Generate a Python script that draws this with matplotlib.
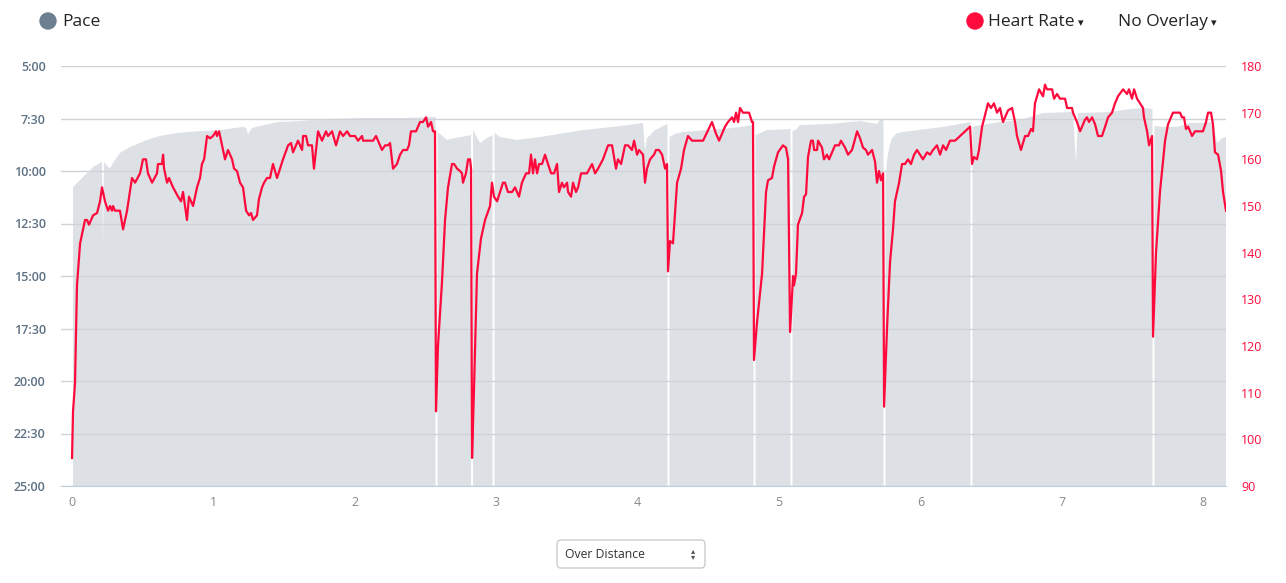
import numpy as np
import matplotlib
matplotlib.use("Agg")
import matplotlib.pyplot as plt
from matplotlib.patches import Circle, FancyBboxPatch

# pace (min/km) over distance (km); nan = no pace recorded (stop)
pace_km = [0.007, 0.021, 0.092, 0.149, 0.198, 0.212, 0.219, 0.226, 0.255, 0.269,
           0.304, 0.339, 0.410, 0.530, 0.622, 0.743, 0.905, 1.047, 1.209, 1.231,
           1.245, 1.273, 1.450, 1.612, 1.825, 2.037, 2.320, 2.571, 2.577, 2.585,
           2.652, 2.709, 2.822, 2.829, 2.836, 2.885, 2.935, 2.974, 2.981, 2.988,
           3.027, 3.147, 3.310, 3.614, 3.876, 4.038, 4.052, 4.066, 4.088, 4.123,
           4.211, 4.218, 4.225, 4.264, 4.321, 4.675, 4.820, 4.827, 4.834, 4.915,
           5.081, 5.088, 5.095, 5.127, 5.148, 5.361, 5.573, 5.693, 5.714, 5.739,
           5.746, 5.753, 5.764, 5.778, 5.799, 5.834, 5.926, 6.160, 6.354, 6.361,
           6.368, 6.421, 6.563, 6.704, 6.796, 6.867, 7.079, 7.100, 7.115, 7.341,
           7.482, 7.574, 7.641, 7.648, 7.655, 7.716, 7.815, 7.907, 7.998, 8.069,
           8.098, 8.133, 8.161]
pace_min = [10.76, 10.67, 10.19, 9.81, 9.62, 9.57, 13.43, 9.57, 9.81, 9.86,
            9.48, 9.14, 8.86, 8.52, 8.33, 8.19, 8.10, 8.05, 7.90, 7.95,
            8.24, 7.95, 7.67, 7.62, 7.52, 7.48, 7.48, 7.43, np.nan, 8.14,
            8.52, 8.43, 8.29, np.nan, 8.05, 8.67, 8.43, 8.29, np.nan, 8.19,
            8.38, 8.52, 8.38, 8.05, 7.86, 7.71, 9.00, 8.43, 8.29, 8.05,
            7.76, np.nan, 8.38, 8.24, 8.14, 7.95, 7.81, np.nan, 8.29, 8.05,
            8.00, np.nan, 8.10, 8.00, 7.81, 7.76, 7.62, 7.76, 7.57, 7.57,
            np.nan, 10.50, 9.50, 8.90, 8.43, 8.19, 8.10, 7.90, 7.67, np.nan,
            7.90, 7.81, 7.67, 7.57, 7.38, 7.24, 7.19, 9.62, 7.24, 7.19,
            7.05, 7.00, 7.05, np.nan, 7.86, 7.90, 7.90, 7.71, 7.71, 7.67,
            8.67, 8.43, 8.38]

# heart rate (bpm) over distance (km)
hr_km = [0.000, 0.007, 0.021, 0.028, 0.035, 0.057, 0.071, 0.092, 0.106, 0.120,
         0.149, 0.177, 0.198, 0.212, 0.233, 0.255, 0.269, 0.283, 0.290, 0.304,
         0.339, 0.361, 0.389, 0.424, 0.446, 0.481, 0.502, 0.523, 0.537, 0.566,
         0.601, 0.608, 0.636, 0.644, 0.651, 0.672, 0.686, 0.714, 0.750, 0.771,
         0.785, 0.813, 0.827, 0.856, 0.884, 0.905, 0.919, 0.934, 0.955, 0.976,
         0.997, 1.018, 1.025, 1.040, 1.061, 1.082, 1.103, 1.132, 1.146, 1.167,
         1.188, 1.209, 1.231, 1.252, 1.266, 1.280, 1.308, 1.322, 1.344, 1.358,
         1.379, 1.400, 1.421, 1.450, 1.471, 1.492, 1.528, 1.549, 1.563, 1.598,
         1.627, 1.634, 1.655, 1.669, 1.697, 1.711, 1.740, 1.768, 1.796, 1.810,
         1.839, 1.867, 1.895, 1.917, 1.945, 1.966, 2.001, 2.023, 2.051, 2.058,
         2.129, 2.150, 2.192, 2.214, 2.235, 2.249, 2.270, 2.298, 2.320, 2.341,
         2.369, 2.383, 2.397, 2.433, 2.461, 2.482, 2.504, 2.518, 2.539, 2.553,
         2.567, 2.574, 2.588, 2.617, 2.638, 2.659, 2.687, 2.702, 2.723, 2.744,
         2.758, 2.765, 2.786, 2.801, 2.815, 2.822, 2.829, 2.843, 2.864, 2.892,
         2.921, 2.956, 2.970, 2.984, 3.006, 3.027, 3.048, 3.062, 3.083, 3.112,
         3.133, 3.161, 3.182, 3.211, 3.232, 3.246, 3.260, 3.274, 3.289, 3.303,
         3.324, 3.345, 3.366, 3.388, 3.409, 3.430, 3.444, 3.465, 3.479, 3.501,
         3.508, 3.529, 3.543, 3.564, 3.579, 3.600, 3.642, 3.678, 3.699, 3.720,
         3.755, 3.791, 3.819, 3.847, 3.861, 3.883, 3.911, 3.932, 3.960, 3.975,
         3.996, 4.010, 4.038, 4.052, 4.066, 4.088, 4.116, 4.130, 4.151, 4.173,
         4.194, 4.208, 4.215, 4.229, 4.250, 4.279, 4.307, 4.328, 4.356, 4.385,
         4.463, 4.526, 4.554, 4.576, 4.618, 4.639, 4.668, 4.682, 4.696, 4.710,
         4.724, 4.745, 4.774, 4.788, 4.809, 4.816, 4.823, 4.844, 4.880, 4.908,
         4.922, 4.950, 4.965, 4.993, 5.028, 5.049, 5.064, 5.078, 5.099, 5.106,
         5.120, 5.134, 5.163, 5.177, 5.191, 5.205, 5.226, 5.240, 5.248, 5.269,
         5.276, 5.304, 5.318, 5.339, 5.354, 5.396, 5.424, 5.438, 5.467, 5.488,
         5.516, 5.530, 5.552, 5.573, 5.594, 5.615, 5.629, 5.658, 5.679, 5.693,
         5.707, 5.721, 5.736, 5.743, 5.764, 5.785, 5.806, 5.820, 5.849, 5.870,
         5.891, 5.912, 5.933, 5.955, 5.976, 5.997, 6.018, 6.047, 6.068, 6.089,
         6.117, 6.139, 6.160, 6.181, 6.209, 6.245, 6.280, 6.315, 6.351, 6.365,
         6.379, 6.400, 6.414, 6.436, 6.457, 6.478, 6.499, 6.520, 6.542, 6.563,
         6.584, 6.620, 6.648, 6.669, 6.683, 6.711, 6.740, 6.761, 6.782, 6.796,
         6.810, 6.839, 6.867, 6.881, 6.895, 6.931, 6.945, 6.966, 6.987, 7.023,
         7.037, 7.072, 7.079, 7.107, 7.129, 7.164, 7.178, 7.192, 7.214, 7.235,
         7.256, 7.284, 7.306, 7.327, 7.355, 7.376, 7.397, 7.433, 7.461, 7.475,
         7.496, 7.511, 7.532, 7.553, 7.574, 7.581, 7.603, 7.617, 7.638, 7.645,
         7.666, 7.694, 7.730, 7.751, 7.786, 7.836, 7.850, 7.864, 7.878, 7.893,
         7.921, 7.942, 7.977, 7.998, 8.020, 8.034, 8.055, 8.069, 8.083, 8.105,
         8.126, 8.140, 8.161]
hr_bpm = [96, 106, 112, 123, 133, 142, 144, 147, 147, 146,
          148, 148.5, 151, 154, 151, 149, 150, 149, 150, 149,
          149, 145, 149, 156, 155, 157, 160, 160, 157, 155,
          157, 159, 159, 161, 158, 155, 156, 154, 152, 151,
          153, 147, 152, 150, 154, 156, 159, 160, 165, 164.5,
          165, 166, 165, 166, 163, 160, 162, 160, 158, 157.5,
          155, 154, 149, 148, 148.5, 147, 148, 151.5, 154, 155,
          156, 156, 159, 156, 158, 160, 163, 163.5, 161.5, 164,
          162, 165, 165, 163, 163, 158, 166, 164, 166, 165,
          166, 163, 166, 165, 166, 165, 165, 164, 165, 164,
          164, 165, 162, 163, 163, 163.5, 158, 159, 161, 162,
          162, 163, 166, 166, 168, 168, 169, 167, 168, 166,
          166, 106, 120, 134, 147, 154, 159, 159, 158, 157.5,
          157, 155, 157, 160, 160, 158, 96, 111, 135.5, 143,
          147, 150, 155, 152, 151, 153, 155, 155, 153, 153,
          154, 152, 155, 157, 157, 161, 157, 160, 157, 159,
          159, 161, 159, 157, 157, 159, 153, 155, 154, 155,
          153, 152, 155, 153, 154, 157, 157, 159, 157, 158,
          160, 163, 163, 158, 160, 159, 163, 163, 162, 164,
          161, 162, 161, 155, 158, 160, 161, 162, 162, 161,
          158, 159, 136, 142.5, 142, 155, 158, 162, 165, 164,
          164, 168, 165.5, 164, 167, 168, 169, 168, 170, 168,
          171, 170, 170, 170, 168, 168, 117, 125, 135.5, 153,
          155.5, 156, 158.5, 161.5, 163, 162.5, 160, 123, 135, 133,
          135.5, 146, 148.5, 152, 152.5, 160.5, 164, 164, 162, 162,
          164, 162.5, 160, 161, 160, 163, 163, 164, 162.5, 161,
          162, 163.5, 166, 164.5, 162.5, 162, 161, 162, 159.5, 155,
          157.5, 155.5, 157, 107, 124, 138, 145, 151, 155, 159,
          159, 160, 159, 161, 162, 161, 160, 161.5, 161, 162,
          163, 161, 163, 162, 164, 164, 165, 166, 167, 159,
          160.5, 160, 162, 167, 169.5, 172, 171, 172, 170, 171,
          168, 170.5, 171, 168, 165, 162, 165, 165, 166.5, 166,
          172, 175, 173.5, 176, 175, 175, 173, 174, 173, 173,
          171, 171, 170, 168, 166, 168.5, 169, 168, 169, 167.5,
          165, 165, 167, 169, 170, 172, 173.5, 175, 174, 175,
          173, 175, 173, 172, 171, 169, 166, 163, 165, 122,
          140, 153, 164, 167.5, 170, 170, 169, 169, 166.5, 167,
          165, 166, 166, 166, 168, 170, 170, 167.5, 161.5, 161,
          157.5, 153, 149]

pace_ticks = [5, 7.5, 10, 12.5, 15, 17.5, 20, 22.5, 25]
pace_labels = ["5:00", "7:30", "10:00", "12:30", "15:00", "17:30", "20:00", "22:30", "25:00"]
hr_ticks = [90, 100, 110, 120, 130, 140, 150, 160, 170, 180]
km_ticks = [0, 1, 2, 3, 4, 5, 6, 7, 8]

PACE_FILL = "#dde1e5"
HR_RED = "#ff0a3c"

plt.rcParams["font.family"] = ["Open Sans", "DejaVu Sans"]

W, H = 1286, 583
fig = plt.figure(figsize=(W / 100, H / 100), dpi=100)
ax = fig.add_axes([61 / W, (H - 486) / H, 1165 / W, 420 / H])

pace = np.array(pace_min, dtype=float)
ax.fill_between(pace_km, pace, 25, where=~np.isnan(pace), color=PACE_FILL, lw=0, zorder=1)
ax.set_xlim(-0.078, 8.161)
ax.set_ylim(25, 5)
ax.set_yticks(pace_ticks)
ax.set_yticklabels(pace_labels)
ax.set_xticks(km_ticks)
ax.yaxis.grid(True, color="#cfd3d7", lw=1, zorder=2)
ax.set_axisbelow(False)
for s in ["top", "left", "right"]:
    ax.spines[s].set_visible(False)
ax.spines["bottom"].set_color("#bccddd")
ax.spines["bottom"].set_zorder(3)
ax.tick_params(axis="y", length=0, pad=11, labelsize=9, labelcolor="#5d7184")
ax.tick_params(axis="x", length=0, pad=7, labelsize=9, labelcolor="#888888")
for t in ax.get_yticklabels():
    t.set_fontweight("semibold")

ax2 = ax.twinx()
ax2.plot(hr_km, hr_bpm, color=HR_RED, lw=1.6, solid_joinstyle="round")
ax2.set_ylim(90, 180)
ax2.set_yticks(hr_ticks)
ax2.tick_params(axis="y", length=0, pad=11, labelsize=9, labelcolor=HR_RED)
for s in ax2.spines.values():
    s.set_visible(False)

# header legend and the distance selector, in pixel coordinates
ov = fig.add_axes([0, 0, 1, 1])
ov.set_xlim(0, W)
ov.set_ylim(H, 0)
ov.axis("off")
ov.add_patch(Circle((48, 21), 8, color="#6c8091"))
ov.text(62, 22, "Pace", fontsize=12.5, va="center", color="#222222")
ov.add_patch(Circle((975, 21), 8, color=HR_RED))
ov.text(988, 22, "Heart Rate", fontsize=12.5, va="center", color="#222222")
ov.text(1081, 23, "▾", fontsize=8, ha="center", va="center", color="#222222", family="DejaVu Sans")
ov.text(1118, 22, "No Overlay", fontsize=12.5, va="center", color="#222222")
ov.text(1214, 23, "▾", fontsize=8, ha="center", va="center", color="#222222", family="DejaVu Sans")

ov.add_patch(FancyBboxPatch((557, 540), 148, 28, boxstyle="round,pad=0,rounding_size=4",
                            fc="white", ec="#cccccc", lw=1))
ov.text(565, 554, "Over Distance", fontsize=8.8, va="center", color="#333333")
ov.text(693, 550.5, "▴", fontsize=6, ha="center", va="center", color="#555555", family="DejaVu Sans")
ov.text(693, 557, "▾", fontsize=6, ha="center", va="center", color="#555555", family="DejaVu Sans")

fig.savefig("out.png", dpi=100)
